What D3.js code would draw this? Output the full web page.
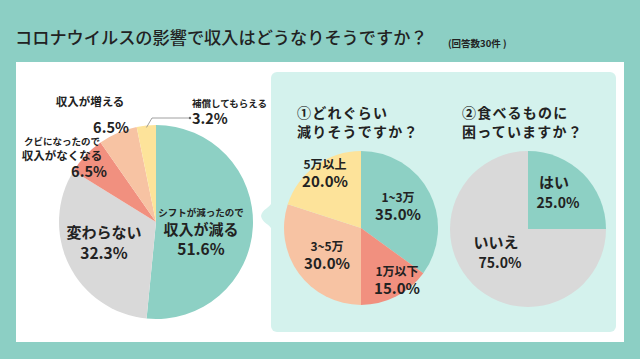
<!DOCTYPE html>
<html><head><meta charset="utf-8">
<script src="https://cdn.jsdelivr.net/npm/d3@7"></script>
<style>
html,body{margin:0;padding:0;background:#8ccfc4;}
svg{display:block;font-family:"Noto Sans CJK JP","Noto Sans",sans-serif;}
</style></head><body>
<svg id="c" width="640" height="359"></svg>
<script>
// ---- data ----
const title = "コロナウイルスの影響で収入はどうなりそうですか？";
const subtitle = "(回答数30件 )";
const mainCategories = ["シフトが減ったので|収入が減る", "変わらない", "クビになったので|収入がなくなる", "収入が増える", "補償してもらえる"];
const mainValues = [51.6, 32.3, 6.5, 6.5, 3.2];
const q1Title = ["①どれぐらい", "減りそうですか？"];
const q1Categories = ["1~3万", "1万以下", "3~5万", "5万以上"];
const q1Values = [35.0, 15.0, 30.0, 20.0];
const q2Title = ["②食べるものに", "困っていますか？"];
const q2Categories = ["はい", "いいえ"];
const q2Values = [25.0, 75.0];

const colors = {teal:"#8dd0c4", gray:"#d9d9d9", salmon:"#f1907f", peach:"#f7c3a3", yellow:"#fde39a"};
const mainColors = [colors.teal, colors.gray, colors.salmon, colors.peach, colors.yellow];
const q1Colors = [colors.teal, colors.salmon, colors.peach, colors.yellow];
const q2Colors = [colors.teal, colors.gray];
const fmt = v => v.toFixed(1) + "%";

const svg = d3.select("#c");
const ink = "#222";

// background panels
svg.append("rect").attr("x",0).attr("y",0).attr("width",640).attr("height",359).attr("fill","#8ccfc4");
svg.append("rect").attr("x",16).attr("y",62).attr("width",608).attr("height",280).attr("fill","#ffffff");
svg.append("rect").attr("x",271).attr("y",72).attr("width",345).attr("height",260).attr("rx",6).attr("fill","#d4f2ed");
// speech-bubble bump
svg.append("path").attr("fill","#d4f2ed")
  .attr("d","M272,202 C270,208 262,209 261,216 C262,223 270,224 272,230 Z");

// title
svg.append("text").attr("x",15).attr("y",44).attr("font-size",17.2).attr("font-weight",500)
  .attr("fill",ink).text(title);
svg.append("text").attr("x",448).attr("y",47).attr("font-size",9.5).attr("font-weight",700)
  .attr("fill",ink).text(subtitle);

function drawPie(cx, cy, r, values, cols){
  const pie = d3.pie().sort(null).value(d=>d)(values);
  const arc = d3.arc().innerRadius(0).outerRadius(r);
  const g = svg.append("g").attr("transform",`translate(${cx},${cy})`);
  g.selectAll("path").data(pie).join("path").attr("d",arc).attr("fill",(d,i)=>cols[i]);
  return {g, pie};
}
function label(g, x, y, lines, anchor){
  const t = g.append("text").attr("text-anchor",anchor||"middle").attr("fill",ink).attr("font-weight",700);
  lines.forEach(l=>{
    t.append("tspan").attr("x",l.dx!==undefined?x+l.dx:x).attr("y",y+l.dy).attr("font-size",l.size).text(l.text);
  });
}

// main pie
const M = drawPie(156, 222, 97, mainValues, mainColors);
const mc = mainCategories.map(s=>s.split("|"));
label(M.g, 45, 0, [
  {text:mc[0][0], size:9.5, dy:-6},
  {text:mc[0][1], size:15, dy:13},
  {text:fmt(mainValues[0]), size:15.5, dy:33}]);
label(M.g, -52, 0, [
  {text:mc[1][0], size:15, dy:16},
  {text:fmt(mainValues[1]), size:15.5, dy:37}]);
label(M.g, -94, 0, [
  {text:mc[2][0], size:9.5, dy:-77},
  {text:mc[2][1], size:11.5, dy:-62},
  {text:fmt(mainValues[2]), size:14.5, dy:-45, dx:27}]);
label(M.g, -66, 0, [
  {text:mc[3], size:11.5, dy:-116},
  {text:fmt(mainValues[3]), size:14.5, dy:-89, dx:21}]);
label(M.g, 36, 0, [
  {text:mc[4], size:9.5, dy:-115},
  {text:fmt(mainValues[4]), size:14.5, dy:-98}], "start");
// leader line for small slice
const yl = M.pie[4];
const ang = (yl.startAngle+yl.endAngle)/2;
const p0 = [Math.sin(ang)*97*0.98, -Math.cos(ang)*97*0.98];
M.g.append("path").attr("fill","none").attr("stroke","#888").attr("stroke-width",0.8)
  .attr("d",`M${p0[0]},${p0[1]} L-4,-104 L33,-104`);
M.g.append("circle").attr("cx",34).attr("cy",-104).attr("r",1.2).attr("fill","#666");

// panel headings
function heading(x, y, lines){
  const t = svg.append("text").attr("fill",ink).attr("font-weight",700).attr("font-size",14).attr("letter-spacing",1.2);
  lines.forEach((l,i)=>t.append("tspan").attr("x",x).attr("y",y+i*19).text(l));
}
heading(297, 118, q1Title);
heading(462, 118, q2Title);

// q1 pie
const P1 = drawPie(361, 228, 77, q1Values, q1Colors);
const q1Pos = [[37,-26],[36,48],[-34,23],[-36,-59]];
q1Categories.forEach((c,i)=>{
  label(P1.g, q1Pos[i][0], q1Pos[i][1], [
    {text:c, size:12, dy:0},
    {text:fmt(q1Values[i]), size:15, dy:18}]);
});

// q2 pie
const P2 = drawPie(528, 229, 78, q2Values, q2Colors);
const q2Pos = [[30,-41],[-28,19]];
q2Categories.forEach((c,i)=>{
  label(P2.g, q2Pos[i][0], q2Pos[i][1], [
    {text:c, size:15, dy:0, dx:-4},
    {text:fmt(q2Values[i]), size:14, dy:20}]);
});
</script></body></html>
